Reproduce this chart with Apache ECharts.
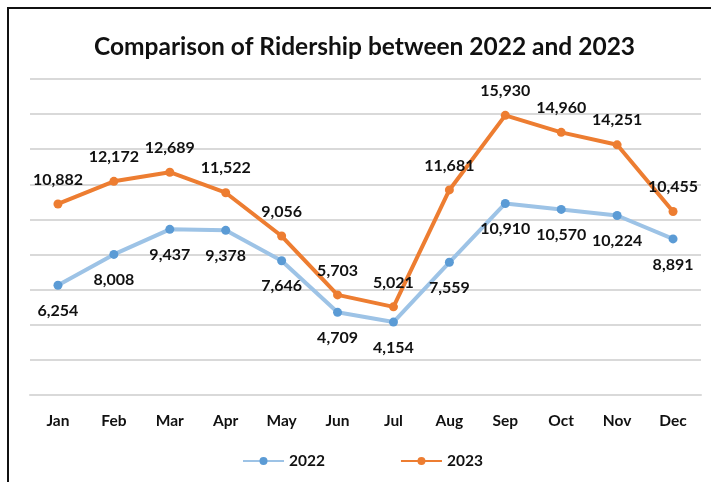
<!DOCTYPE html>
<html>
<head>
<meta charset="utf-8">
<script src="https://cdn.jsdelivr.net/npm/echarts@6/dist/echarts.min.js"></script>
<style>
  html, body { margin: 0; padding: 0; background: #fff; }
  #container { width: 711px; height: 482px; }
</style>
</head>
<body>
<div id="container"></div>
<script>
var months = ['Jan', 'Feb', 'Mar', 'Apr', 'May', 'Jun', 'Jul', 'Aug', 'Sep', 'Oct', 'Nov', 'Dec'];
var riders2022 = [6254, 8008, 9437, 9378, 7646, 4709, 4154, 7559, 10910, 10570, 10224, 8891];
var riders2023 = [10882, 12172, 12689, 11522, 9056, 5703, 5021, 11681, 15930, 14960, 14251, 10455];

var dom = document.getElementById('container');
var myChart = echarts.init(dom);
var font = 'Lato, "Open Sans", sans-serif';

var labelFmt = function (p) {
    return echarts.format.addCommas(p.value);
};

var option = {
    backgroundColor: '#fff',
    animation: false,
    title: {
        text: 'Comparison of Ridership between 2022 and 2023',
        left: 89,
        top: 30,
        textStyle: { fontFamily: font, fontSize: 24.5, fontWeight: 'bold', color: '#111' }
    },
    // frame lines at top and left only
    graphic: [
        { type: 'line', shape: { x1: 7, y1: 8, x2: 711, y2: 8 }, style: { stroke: '#111', lineWidth: 2 } },
        { type: 'line', shape: { x1: 8, y1: 7, x2: 8, y2: 482 }, style: { stroke: '#111', lineWidth: 2 } }
    ],
    legend: {
        bottom: 8,
        left: 237,
        itemWidth: 41,
        itemHeight: 10,
        itemGap: 75,
        textStyle: { fontFamily: font, fontSize: 15.5, fontWeight: 'bold', color: '#111' },
        data: ['2022', '2023']
    },
    grid: { left: 30, right: 10, top: 79, bottom: 87 },
    xAxis: {
        type: 'category',
        data: months,
        axisLine: { lineStyle: { color: '#d9d9d9', width: 2 } },
        axisTick: { show: false },
        axisLabel: { margin: 18, fontFamily: font, fontSize: 15.5, fontWeight: 'bold', color: '#111' }
    },
    yAxis: {
        type: 'value',
        min: 0,
        max: 18000,
        interval: 2000,
        axisLabel: { show: false },
        axisLine: { show: false },
        axisTick: { show: false },
        splitLine: { lineStyle: { color: '#d9d9d9', width: 2 } }
    },
    series: [{
        name: '2022',
        type: 'line',
        data: riders2022,
        symbol: 'circle',
        symbolSize: 9,
        itemStyle: { color: '#5b9bd5' },
        lineStyle: { color: '#9dc3e6', width: 4 },
        label: {
            show: true,
            position: 'bottom',
            distance: 13,
            formatter: labelFmt,
            fontFamily: font, fontSize: 16, fontWeight: 'bold', color: '#111'
        }
    }, {
        name: '2023',
        type: 'line',
        data: riders2023,
        symbol: 'circle',
        symbolSize: 9,
        itemStyle: { color: '#ed7d31' },
        lineStyle: { color: '#ed7d31', width: 4 },
        label: {
            show: true,
            position: 'top',
            distance: 12,
            formatter: labelFmt,
            fontFamily: font, fontSize: 16, fontWeight: 'bold', color: '#111'
        }
    }]
};
myChart.setOption(option);
</script>
</body>
</html>
